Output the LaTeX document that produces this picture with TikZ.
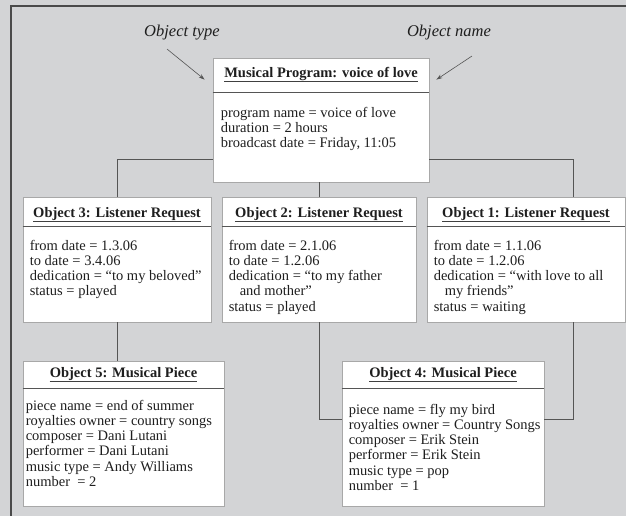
\documentclass[tikz,border=0pt]{standalone}
\usepackage{fontspec}
\setmainfont{Liberation Serif}
\usetikzlibrary{arrows.meta,positioning}
\definecolor{panelgray}{HTML}{D3D4D6}
\definecolor{framegray}{HTML}{4A4A4A}
\definecolor{boxedge}{HTML}{A8A8A8}
\definecolor{linkgray}{HTML}{555555}
\definecolor{inkblack}{HTML}{1E1E1E}

\begin{document}
\begin{tikzpicture}[x=1pt, y=-1pt,
  objbox/.style={draw=boxedge, fill=white, line width=0.8pt, inner sep=0pt},
  objtitle/.style={font=\fontsize{14.5}{15}\selectfont\bfseries, text=inkblack,
                   inner sep=0pt, anchor=base},
  objattr/.style={font=\fontsize{14.5}{15.3}\selectfont, text=inkblack,
                  inner sep=0pt, anchor=north west, align=left},
  sepline/.style={draw=linkgray, line width=0.9pt},
  uline/.style={draw=inkblack!85, line width=1.4pt},
  link/.style={draw=linkgray, line width=1pt},
  note/.style={font=\fontsize{16.5}{16.5}\selectfont\itshape, text=inkblack},
  pointer/.style={draw=linkgray, line width=0.6pt, -{Stealth[length=6pt,width=4pt]}}
]

% Panel background, frame on top and left only
\fill[panelgray] (0,0) rectangle (626,516);
\useasboundingbox (0,0) rectangle (626,516);
\draw[framegray, line width=1.6pt] (11,516) -- (11,6) -- (626,6);

% Object boxes
\node[objbox, minimum width=216pt, minimum height=124pt] (prog) at (321,120)   {};
\node[objbox, minimum width=188pt, minimum height=125pt] (obj3) at (117,259.5) {};
\node[objbox, minimum width=194pt, minimum height=125pt] (obj2) at (319,259.5) {};
\node[objbox, minimum width=198pt, minimum height=125pt] (obj1) at (526,259.5) {};
\node[objbox, minimum width=201pt, minimum height=145pt] (obj5) at (123.5,433.5) {};
\node[objbox, minimum width=202pt, minimum height=145pt] (obj4) at (443,433.5) {};

% Titles
\node[objtitle] (prog-t) at ([yshift=-20pt]prog.north) {Musical Program: voice of love};
\node[objtitle] (obj3-t) at ([yshift=-21pt]obj3.north) {Object 3: Listener Request};
\node[objtitle] (obj2-t) at ([yshift=-21pt]obj2.north) {Object 2: Listener Request};
\node[objtitle] (obj1-t) at ([yshift=-21pt]obj1.north) {Object 1: Listener Request};
\node[objtitle] (obj5-t) at ([yshift=-17pt]obj5.north) {Object 5: Musical Piece};
\node[objtitle] (obj4-t) at ([yshift=-17pt]obj4.north) {Object 4: Musical Piece};

% Underline under each title, separator under each title bar
\foreach \obj/\sep in {prog/35, obj3/30, obj2/30, obj1/30, obj5/28, obj4/28}{
  \draw[uline] ([yshift=-4pt]\obj-t.base west) -- ([yshift=-4pt]\obj-t.base east);
  \draw[sepline] ([yshift=-\sep pt]\obj.north west) -- ([yshift=-\sep pt]\obj.north east);
}

% Attributes
\node[objattr] (prog-a) at ([xshift=8pt, yshift=-49pt]prog.north west)
  {program name = voice of love\\duration = 2 hours\\broadcast date = Friday, 11:05};
\node[objattr] (obj3-a) at ([xshift=7pt, yshift=-43pt]obj3.north west)
  {from date = 1.3.06\\to date = 3.4.06\\dedication = ``to my beloved''\\status = played};
\node[objattr] (obj2-a) at ([xshift=7pt, yshift=-43pt]obj2.north west)
  {from date = 2.1.06\\to date = 1.2.06\\dedication = ``to my father\\\hspace*{11pt}and mother''\\status = played};
\node[objattr] (obj1-a) at ([xshift=7pt, yshift=-43pt]obj1.north west)
  {from date = 1.1.06\\to date = 1.2.06\\dedication = ``with love to all\\\hspace*{11pt}my friends''\\status = waiting};
\node[objattr] (obj5-a) at ([xshift=3pt, yshift=-39pt]obj5.north west)
  {piece name = end of summer\\royalties owner = country songs\\composer = Dani Lutani\\performer = Dani Lutani\\music type = Andy Williams\\number\ \ = 2};
\node[objattr] (obj4-a) at ([xshift=7pt, yshift=-43pt]obj4.north west)
  {piece name = fly my bird\\royalties owner = Country Songs\\composer = Erik Stein\\performer = Erik Stein\\music type = pop\\number\ \ = 1};

% Links between objects
\draw[link] (obj3.north) |- ([yshift=23pt]prog.south west);
\draw[link] (prog.south -| obj2.north) -- (obj2.north);
\draw[link] ([xshift=47pt]obj1.north) |- ([yshift=23pt]prog.south east);
\draw[link] (obj3.south) -- (obj3.south |- obj5.north);
\draw[link] (obj2.south) |- ([yshift=14.5pt]obj4.west);
\draw[link] ([xshift=47pt]obj1.south) |- ([yshift=14.5pt]obj4.east);

% Annotations
\node[note] (typenote) at (182,33) {Object type};
\node[note] (namenote) at (449,33) {Object name};
\draw[pointer] ([xshift=-15pt, yshift=-5pt]typenote.south) -- ([xshift=-8pt, yshift=-22pt]prog.north west);
\draw[pointer] ([xshift=23pt, yshift=-12pt]namenote.south) -- ([xshift=7pt, yshift=-22pt]prog.north east);

\end{tikzpicture}
\end{document}
